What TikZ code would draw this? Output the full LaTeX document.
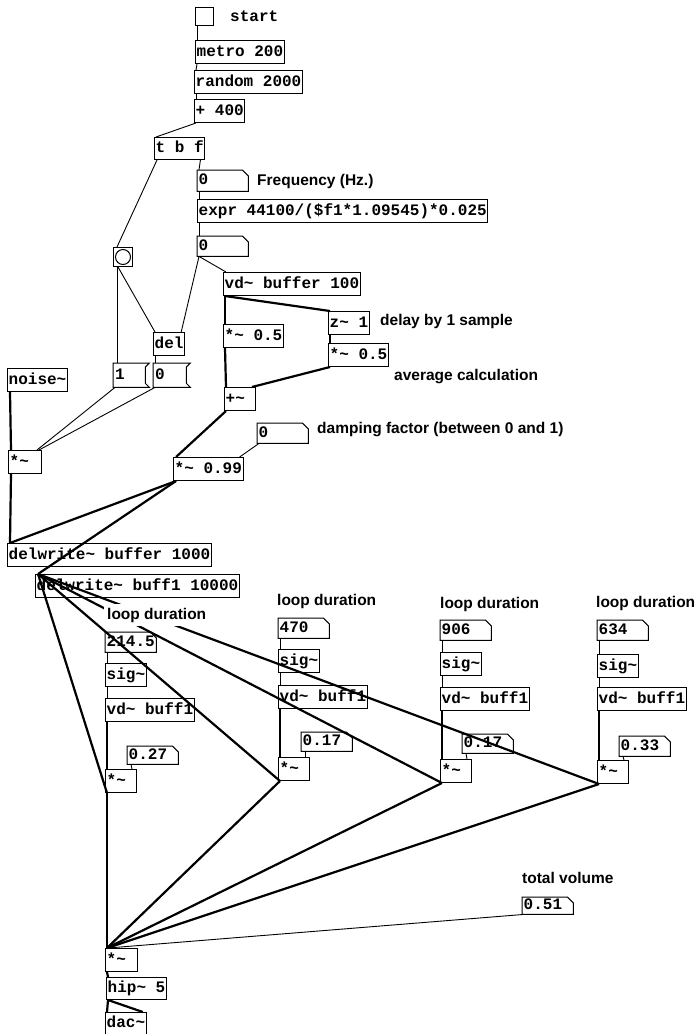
\documentclass[tikz,border=0pt]{standalone}
\usepackage{fontspec}
\newfontfamily\pdmono{Liberation Mono}
\newfontfamily\pdsans{Liberation Sans}
\newcommand{\objfont}{\pdmono\bfseries\fontsize{16}{18}\selectfont}
\newcommand{\cmtfont}{\pdsans\bfseries\fontsize{15.5}{17}\selectfont}
\newcommand{\tl}{\textasciitilde}

\begin{document}
\begin{tikzpicture}[x=1pt, y=-1pt,
    obj/.style={draw, line width=1pt, anchor=north west, font=\objfont, inner xsep=1.2pt,
      inner ysep=0pt, minimum height=23pt, text height=11pt, text depth=3pt},
    narrow/.style={text width=28.6pt, align=left},
    atom/.style={anchor=north west, font=\objfont, inner xsep=1.5pt, inner ysep=0pt,
      text width=48pt, align=left, minimum height=20pt, text height=11pt, text depth=3pt,
      append after command={\pgfextra{\draw[line width=1pt] (\tikzlastnode.north west)
        -- ([xshift=-6pt]\tikzlastnode.north east) -- ([yshift=-6pt]\tikzlastnode.north east)
        -- (\tikzlastnode.south east) -- (\tikzlastnode.south west) -- cycle;}}},
    msg/.style={anchor=north west, font=\objfont, inner xsep=2pt, inner ysep=0pt,
      text width=28pt, align=left, minimum height=24pt, text height=11pt, text depth=3pt,
      append after command={\pgfextra{\draw[line width=1pt] (\tikzlastnode.north west)
        -- ([xshift=4pt]\tikzlastnode.north east) -- ([yshift=-4pt]\tikzlastnode.north east)
        -- ([yshift=4pt]\tikzlastnode.south east) -- ([xshift=4pt]\tikzlastnode.south east)
        -- (\tikzlastnode.south west) -- cycle;}}},
    cmt/.style={anchor=west, font=\cmtfont, fill=white, inner xsep=3pt, inner ysep=4pt},
    ctrl/.style={line width=0.9pt},
    audio/.style={line width=2.2pt}]
  \useasboundingbox (0,0) rectangle (698,1034);
  % top chain
  \node[draw, line width=1pt, anchor=north west, minimum size=18pt, inner sep=0pt] (tgl) at (195,7) {};
  \node[obj] (metro) at (195,40) {metro 200};
  \node[obj] (rnd) at (194,70) {random 2000};
  \node[obj] (plus) at (194,99) {+ 400};
  \node[obj, minimum height=22pt] (tbf) at (154,137) {t b f};
  \node[atom, minimum height=21pt] (freq) at (197,170) {0};
  \node[obj] (expr) at (197,199) {expr 44100/(\$f1*1.09545)*0.025};
  \node[atom] (dtime) at (197,236) {0};
  % pluck trigger
  \node[draw, line width=1pt, anchor=north west, minimum size=19pt, inner sep=0pt] (bng) at (113,247) {};
  \draw[line width=1pt] (bng.center) circle (7.5pt);
  \node[obj, minimum width=31pt] (del) at (153,332) {del};
  \node[msg] (msg1) at (113,363) {1};
  \node[msg, text width=29pt] (msg0) at (153,363) {0};
  \node[obj] (noise) at (7,368) {noise\tl};
  \node[obj, narrow, text width=30.6pt] (mulnoise) at (8,450) {*\tl};
  % averaging filter
  \node[obj] (vdbuf) at (223,272) {vd\tl{} buffer 100};
  \node[obj] (mulA) at (223,324) {*\tl{} 0.5};
  \node[obj] (zdel) at (328,311) {z\tl{} 1};
  \node[obj] (mulB) at (328,343) {*\tl{} 0.5};
  \node[obj, narrow] (add) at (224,387) {+\tl};
  \node[atom] (damp) at (257,423) {0};
  \node[obj] (mulfb) at (173,457) {*\tl{} 0.99};
  \node[obj] (dw1) at (7,543) {delwrite\tl{} buffer 1000};
  \node[obj] (dw2) at (35,574) {delwrite\tl{} buff1 10000};
  % loop 1
  \node[atom] (at1) at (105,632) {214.5};
  \node[obj] (sg1) at (105,663) {sig\tl};
  \node[obj] (vd1) at (105,698) {vd\tl{} buff1};
  \node[atom, minimum height=18pt] (g1) at (127,746) {0.27};
  \node[obj, narrow] (m1) at (105,769) {*\tl};
  % loop 2
  \node[atom] (at2) at (278,618) {470};
  \node[obj] (sg2) at (278,649) {sig\tl};
  \node[obj] (vd2) at (278,685) {vd\tl{} buff1};
  \node[atom, minimum height=19pt] (g2) at (301,732) {0.17};
  \node[obj, narrow] (m2) at (278,757) {*\tl};
  % loop 3
  \node[atom] (at3) at (440,620) {906};
  \node[obj] (sg3) at (440,652) {sig\tl};
  \node[obj] (vd3) at (440,687) {vd\tl{} buff1};
  \node[atom, minimum height=19pt] (g3) at (462,734) {0.17};
  \node[obj, narrow] (m3) at (440,759) {*\tl};
  % loop 4
  \node[atom] (at4) at (597,620) {634};
  \node[obj] (sg4) at (597,654) {sig\tl};
  \node[obj] (vd4) at (597,687) {vd\tl{} buff1};
  \node[atom] (g4) at (619,736) {0.33};
  \node[obj, narrow] (m4) at (597,760) {*\tl};
  % output
  \node[atom, minimum height=17pt] (vol) at (522,897) {0.51};
  \node[obj, narrow, text width=29.6pt] (mulout) at (105,948) {*\tl};
  \node[obj, minimum height=22pt] (hip) at (106,977) {hip\tl{} 5};
  \node[obj, minimum height=22pt] (dac) at (105,1012) {dac\tl};

  % control connections
  \draw[ctrl] ([xshift=2pt]tgl.south west) -- ([xshift=2pt]metro.north west);
  \draw[ctrl] ([xshift=2pt]metro.south west) -- ([xshift=2pt]rnd.north west);
  \draw[ctrl] ([xshift=2pt]rnd.south west) -- ([xshift=2pt]plus.north west);
  \draw[ctrl] ([xshift=2pt]plus.south west) -- ([xshift=2pt]tbf.north west);
  \draw[ctrl] ([xshift=-5pt]tbf.south east) -- ([xshift=2pt]freq.north west);
  \draw[ctrl] ([xshift=2pt]freq.south west) -- ([xshift=2pt]expr.north west);
  \draw[ctrl] ([xshift=2pt]expr.south west) -- ([xshift=2pt]dtime.north west);
  \draw[ctrl] ([xshift=3pt]tbf.south west) -- ([xshift=4pt]bng.north west);
  \draw[ctrl] ([xshift=4pt]bng.south west) -- ([xshift=4pt]msg1.north west);
  \draw[ctrl] ([xshift=5pt]bng.south west) -- ([xshift=2pt]del.north west);
  \draw[ctrl] ([xshift=2pt]dtime.south west) -- ([xshift=-4pt]del.north east);
  \draw[ctrl] ([xshift=2pt]dtime.south west) -- ([xshift=3pt]vdbuf.north west);
  \draw[ctrl] ([xshift=2pt]del.south west) -- ([xshift=2pt]msg0.north west);
  \draw[ctrl] ([xshift=2pt]msg1.south west) -- ([xshift=-5pt]mulnoise.north east);
  \draw[ctrl] ([xshift=2pt]msg0.south west) -- ([xshift=-3pt]mulnoise.north east);
  \draw[ctrl] ([xshift=2pt]damp.south west) -- ([xshift=-4pt]mulfb.north east);
  \draw[ctrl] ([xshift=2pt]at1.south west) -- ([xshift=2pt]sg1.north west);
  \draw[ctrl] ([xshift=2pt]sg1.south west) -- ([xshift=2pt]vd1.north west);
  \draw[ctrl] ([xshift=4pt]g1.south west) -- ([xshift=-5pt]m1.north east);
  \draw[ctrl] ([xshift=2pt]at2.south west) -- ([xshift=2pt]sg2.north west);
  \draw[ctrl] ([xshift=2pt]sg2.south west) -- ([xshift=2pt]vd2.north west);
  \draw[ctrl] ([xshift=4pt]g2.south west) -- ([xshift=-5pt]m2.north east);
  \draw[ctrl] ([xshift=2pt]at3.south west) -- ([xshift=2pt]sg3.north west);
  \draw[ctrl] ([xshift=2pt]sg3.south west) -- ([xshift=2pt]vd3.north west);
  \draw[ctrl] ([xshift=4pt]g3.south west) -- ([xshift=-5pt]m3.north east);
  \draw[ctrl] ([xshift=2pt]at4.south west) -- ([xshift=2pt]sg4.north west);
  \draw[ctrl] ([xshift=2pt]sg4.south west) -- ([xshift=2pt]vd4.north west);
  \draw[ctrl] ([xshift=4pt]g4.south west) -- ([xshift=-5pt]m4.north east);
  \draw[ctrl] ([xshift=2pt]vol.south west) -- ([xshift=3pt]mulout.north west);

  % signal connections
  \draw[audio] ([xshift=3pt]noise.south west) -- ([xshift=3pt]mulnoise.north west);
  \draw[audio] ([xshift=3pt]mulnoise.south west) -- ([xshift=3pt]dw1.north west);
  \draw[audio] ([xshift=2pt]vdbuf.south west) -- ([xshift=2pt]mulA.north west);
  \draw[audio] ([xshift=2pt]vdbuf.south west) -- ([xshift=2pt]zdel.north west);
  \draw[audio] ([xshift=2pt]zdel.south west) -- ([xshift=2pt]mulB.north west);
  \draw[audio] ([xshift=2pt]mulA.south west) -- ([xshift=2pt]add.north west);
  \draw[audio] ([xshift=2pt]mulB.south west) -- ([xshift=-4pt]add.north east);
  \draw[audio] ([xshift=2pt]add.south west) -- ([xshift=3pt]mulfb.north west);
  \draw[audio] ([xshift=3pt]mulfb.south west) -- ([xshift=3pt]dw1.north west);
  \draw[audio] ([xshift=3pt]mulfb.south west) -- ([xshift=3pt]dw2.north west);
  \draw[audio] ([xshift=2pt]vd1.south west) -- ([xshift=2pt]m1.north west);
  \draw[audio] ([xshift=2pt]vd2.south west) -- ([xshift=2pt]m2.north west);
  \draw[audio] ([xshift=2pt]vd3.south west) -- ([xshift=2pt]m3.north west);
  \draw[audio] ([xshift=2pt]vd4.south west) -- ([xshift=2pt]m4.north west);
  % feedback into buff1
  \draw[audio] ([xshift=2pt]m1.south west) -- ([xshift=3pt]dw2.north west);
  \draw[audio] ([xshift=2pt]m2.south west) -- ([xshift=3pt]dw2.north west);
  \draw[audio] ([xshift=2pt]m3.south west) -- ([xshift=3pt]dw2.north west);
  \draw[audio] ([xshift=2pt]m4.south west) -- ([xshift=3pt]dw2.north west);
  % mix
  \draw[audio] ([xshift=2pt]m1.south west) -- ([xshift=2pt]mulout.north west);
  \draw[audio] ([xshift=2pt]m2.south west) -- ([xshift=2pt]mulout.north west);
  \draw[audio] ([xshift=2pt]m3.south west) -- ([xshift=2pt]mulout.north west);
  \draw[audio] ([xshift=2pt]m4.south west) -- ([xshift=2pt]mulout.north west);
  \draw[audio] ([xshift=2pt]mulout.south west) -- ([xshift=2pt]hip.north west);
  \draw[audio] ([xshift=2pt]hip.south west) -- ([xshift=2pt]dac.north west);
  \draw[audio] ([xshift=2pt]hip.south west) -- ([xshift=-4pt]dac.north east);

  % comments
  \node[cmt, font=\objfont, fill=none] (tstart) at (227,16) {start};
  \node[cmt] (tfreq) at (254,181) {Frequency (Hz.)};
  \node[cmt] (tdelay) at (377,321) {delay by 1 sample};
  \node[cmt] (tavg) at (391,377) {average calculation};
  \node[cmt] (tdamp) at (314,430) {damping factor (between 0 and 1)};
  \node[cmt] (tloop1) at (104,615) {loop duration};
  \node[cmt] (tloop2) at (274,601) {loop duration};
  \node[cmt] (tloop3) at (437,604) {loop duration};
  \node[cmt] (tloop4) at (593,603) {loop duration};
  \node[cmt] (tvol) at (519,878) {total volume};
\end{tikzpicture}
\end{document}
